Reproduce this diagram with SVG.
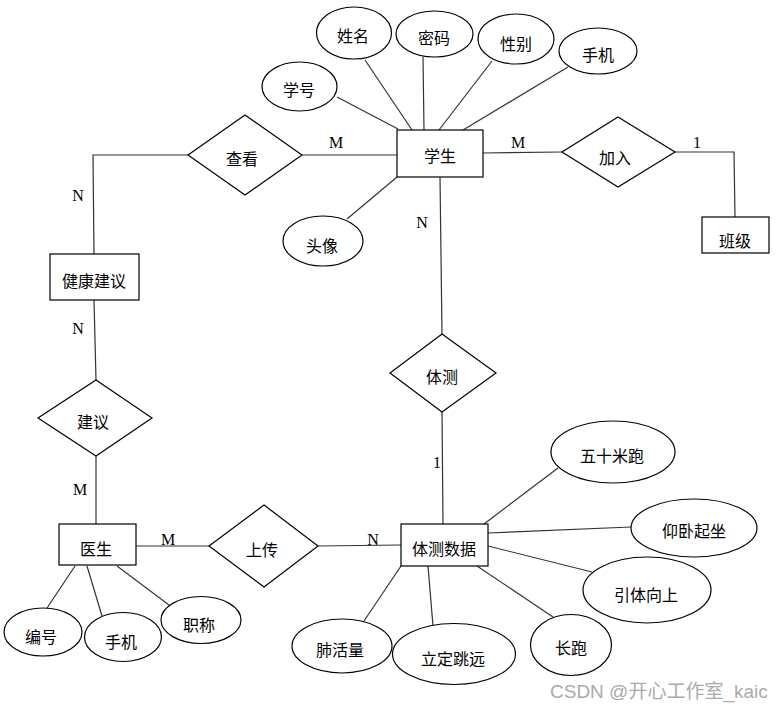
<svg xmlns="http://www.w3.org/2000/svg" width="782" height="711" viewBox="0 0 782 711">
<style>
.shape{fill:#fff;stroke:#000;stroke-width:1.2}
.conn line,.conn polyline{stroke:#333;stroke-width:1.2;fill:none}
.t{font-family:"Noto Sans CJK SC","Liberation Sans",sans-serif;font-size:16px;fill:#000;text-anchor:middle;dominant-baseline:central}
.c{font-family:"Liberation Serif",serif;font-size:16px;fill:#000;text-anchor:middle}
.wm{font-family:"Liberation Sans","Noto Sans CJK SC",sans-serif;font-size:19px;fill:#aaa}
</style>
<rect width="782" height="711" fill="#fff"/>
<g id="connectors" class="conn">
<line x1="337" y1="97" x2="398" y2="129"/>
<line x1="365" y1="60" x2="412" y2="130"/>
<line x1="423" y1="57" x2="424" y2="130"/>
<line x1="492" y1="61" x2="439" y2="130"/>
<line x1="568" y1="67" x2="463" y2="130"/>
<line x1="347" y1="219" x2="397" y2="177"/>
<line x1="302" y1="155" x2="397" y2="155"/>
<line x1="483" y1="153" x2="562" y2="152"/>
<polyline points="675,152 734,152 735,217"/>
<line x1="440" y1="177" x2="442" y2="334"/>
<line x1="442" y1="412" x2="443" y2="524"/>
<polyline points="188,155 93,155 94,254"/>
<line x1="94" y1="300" x2="96" y2="380"/>
<line x1="96" y1="456" x2="96" y2="524"/>
<line x1="136" y1="546" x2="209" y2="546"/>
<line x1="318" y1="546" x2="401" y2="545"/>
<line x1="47" y1="608" x2="75" y2="566"/>
<line x1="102" y1="616" x2="87" y2="566"/>
<line x1="169" y1="605" x2="117" y2="566"/>
<line x1="364" y1="621" x2="401" y2="566"/>
<line x1="558" y1="468" x2="484" y2="524"/>
<line x1="631" y1="527" x2="488" y2="533"/>
<line x1="592" y1="572" x2="488" y2="546"/>
<line x1="553" y1="617" x2="477" y2="566"/>
<line x1="433" y1="626" x2="428" y2="566"/>
<text class="c" x="336" y="148">M</text>
<text class="c" x="518" y="148">M</text>
<text class="c" x="697" y="148">1</text>
<text class="c" x="422" y="228">N</text>
<text class="c" x="437" y="468">1</text>
<text class="c" x="78" y="201">N</text>
<text class="c" x="78" y="334">N</text>
<text class="c" x="80" y="495">M</text>
<text class="c" x="168" y="545">M</text>
<text class="c" x="373" y="545">N</text>
</g>
<g id="student"><rect class="shape" x="397" y="130" width="86" height="47"/><text class="t" x="440" y="155">学生</text></g>
<g id="attr-xuehao"><ellipse class="shape" cx="299.5" cy="86.5" rx="37.5" ry="24.5"/><text class="t" x="299" y="89">学号</text></g>
<g id="attr-xingming"><ellipse class="shape" cx="354" cy="33" rx="37.5" ry="26"/><text class="t" x="353" y="35">姓名</text></g>
<g id="attr-mima"><ellipse class="shape" cx="434.5" cy="34" rx="38.5" ry="23"/><text class="t" x="434" y="37">密码</text></g>
<g id="attr-xingbie"><ellipse class="shape" cx="516" cy="39" rx="38" ry="25"/><text class="t" x="516" y="43">性别</text></g>
<g id="attr-shouji"><ellipse class="shape" cx="598" cy="51" rx="39" ry="23"/><text class="t" x="598" y="54">手机</text></g>
<g id="attr-touxiang"><ellipse class="shape" cx="323" cy="241" rx="40" ry="25"/><text class="t" x="322" y="245">头像</text></g>
<g id="rel-chakan"><polygon class="shape" points="245,115 302,155 245,195 188,155"/><text class="t" x="242" y="158">查看</text></g>
<g id="rel-jiaru"><polygon class="shape" points="618,117 675,152 618,187 562,152"/><text class="t" x="615" y="157">加入</text></g>
<g id="banji"><rect class="shape" x="702" y="217" width="67" height="36"/><text class="t" x="735" y="240">班级</text></g>
<g id="jiankang"><rect class="shape" x="50" y="254" width="89" height="46"/><text class="t" x="94" y="280">健康建议</text></g>
<g id="rel-jianyi"><polygon class="shape" points="96,380 152,418 96,456 38,418"/><text class="t" x="93" y="421">建议</text></g>
<g id="rel-tice"><polygon class="shape" points="442,334 496,373 442,412 390,373"/><text class="t" x="442" y="376">体测</text></g>
<g id="doctor"><rect class="shape" x="59" y="524" width="77" height="41"/><text class="t" x="96" y="548">医生</text></g>
<g id="rel-shangchuan"><polygon class="shape" points="264,505 318,546 264,587 209,546"/><text class="t" x="262" y="549">上传</text></g>
<g id="ticeshuju"><rect class="shape" x="401" y="524" width="87" height="42"/><text class="t" x="444" y="548">体测数据</text></g>
<g id="attr-bianhao"><ellipse class="shape" cx="43" cy="632" rx="39" ry="24"/><text class="t" x="41" y="636">编号</text></g>
<g id="attr-doc-shouji"><ellipse class="shape" cx="123" cy="637" rx="38.5" ry="24.5"/><text class="t" x="121" y="641">手机</text></g>
<g id="attr-zhicheng"><ellipse class="shape" cx="201" cy="620" rx="40" ry="23.5"/><text class="t" x="199" y="624">职称</text></g>
<g id="attr-feihuoliang"><ellipse class="shape" cx="342" cy="646" rx="50" ry="27"/><text class="t" x="340" y="649">肺活量</text></g>
<g id="attr-lidingtiaoyuan"><ellipse class="shape" cx="454" cy="654" rx="61.5" ry="30.5"/><text class="t" x="453" y="658">立定跳远</text></g>
<g id="attr-changpao"><ellipse class="shape" cx="571" cy="645" rx="40.5" ry="30.5"/><text class="t" x="571" y="647">长跑</text></g>
<g id="attr-yintixiangshang"><ellipse class="shape" cx="647" cy="590" rx="64" ry="33"/><text class="t" x="646" y="594">引体向上</text></g>
<g id="attr-yangwoqizuo"><ellipse class="shape" cx="694" cy="528" rx="63" ry="29"/><text class="t" x="694" y="530">仰卧起坐</text></g>
<g id="attr-wushimipao"><ellipse class="shape" cx="613" cy="452" rx="62" ry="31"/><text class="t" x="612" y="455">五十米跑</text></g>
<text class="wm" x="550" y="698">CSDN @开心工作室_kaic</text>
</svg>
